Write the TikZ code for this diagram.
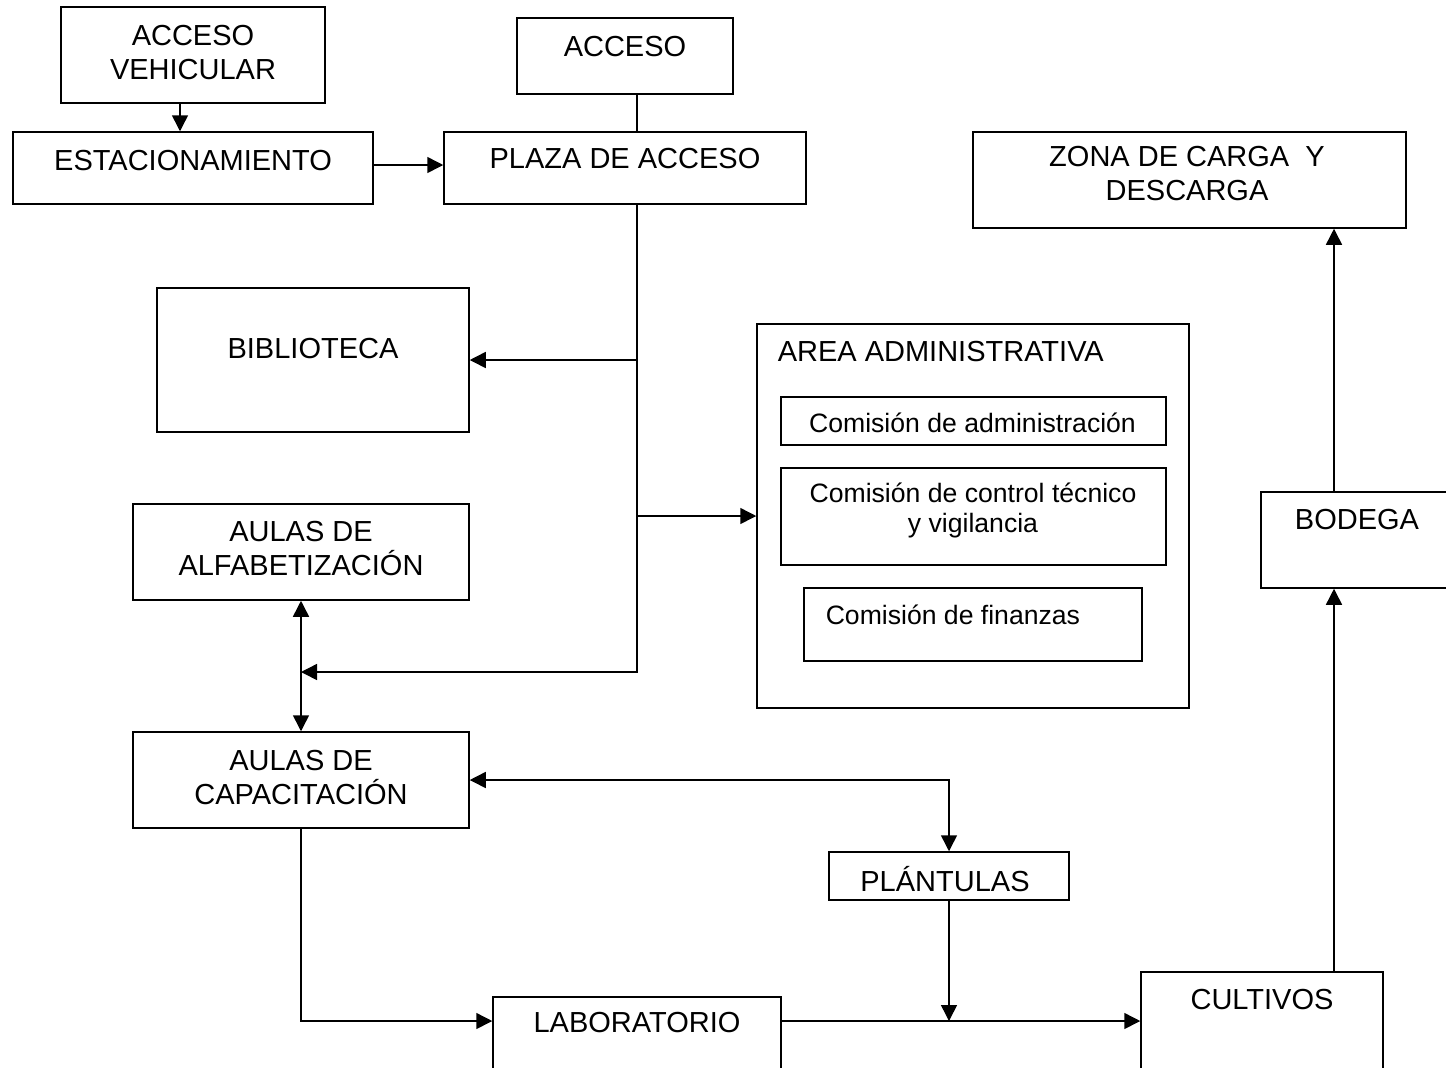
\documentclass[tikz,border=0pt]{standalone}
\usepackage{fontspec}
\setmainfont{Liberation Sans}
\usetikzlibrary{arrows.meta,positioning}

\begin{document}
\begin{tikzpicture}[x=0.5pt,y=-0.5pt,line width=0.75pt,
    box/.style={draw,rectangle,inner sep=0pt},
    txt/.style={align=center,inner sep=0pt,font=\fontsize{14.5}{17}\selectfont},
    small/.style={align=center,inner sep=0pt,font=\fontsize{13.3}{15}\selectfont},
    arr/.style={-{Triangle[length=8pt,width=8pt]}},
    arr2/.style={{Triangle[length=8pt,width=8pt]}-{Triangle[length=8pt,width=8pt]}}]
  \fill[white] (0,0) rectangle (1446,1067);
  \useasboundingbox (0,0) rectangle (1446,1067);
  \clip (0,0) rectangle (1446,1067);

  % boxes
  \node [box,minimum width=132pt,minimum height=48pt] (vehic) at (193,55) {};
  \node [txt] (vehicT) at (193,52.5) {ACCESO\\VEHICULAR};
  \node [box,minimum width=180pt,minimum height=36pt] (estac) at (193,168) {};
  \node [txt] (estacT) at (193,161) {ESTACIONAMIENTO};
  \node [box,minimum width=108pt,minimum height=38pt] (acceso) at (625,56) {};
  \node [txt] (accesoT) at (625,47) {ACCESO};
  \node [box,minimum width=181pt,minimum height=36pt] (plaza) at (625,168) {};
  \node [txt] (plazaT) at (625,159) {PLAZA DE ACCESO};
  \node [box,minimum width=216.5pt,minimum height=48pt] (zona) at (1189.5,180) {};
  \node [txt] (zonaT) at (1187,174) {ZONA DE CARGA~ Y\\DESCARGA};
  \node [box,minimum width=156pt,minimum height=72pt] (biblio) at (313,360) {};
  \node [txt] (biblioT) at (313,349) {BIBLIOTECA};

  \node [box,minimum width=216pt,minimum height=192pt] (area) at (973,516) {};
  \node [txt,anchor=west] (areaT) at (777,352) {AREA ADMINISTRATIVA};
  \node [box,minimum width=192.5pt,minimum height=24pt] (comAdm) at (973.5,421) {};
  \node [small] (comAdmT) at (972.5,423) {Comisión de administración};
  \node [box,minimum width=192.5pt,minimum height=48.5pt] (comCtl) at (973.5,516.5) {};
  \node [small] (comCtlT) at (973,510) {Comisión de control técnico\\y vigilancia};
  \node [box,minimum width=169pt,minimum height=36.5pt] (comFin) at (973,624.5) {};
  \node [small,anchor=west] (comFinT) at (825,615) {Comisión de finanzas};

  \node [box,minimum width=96pt,minimum height=48pt] (bodega) at (1357,540) {};
  \node [txt] (bodegaT) at (1357,520) {BODEGA};
  \node [box,minimum width=168pt,minimum height=48pt] (alfab) at (301,552) {};
  \node [txt] (alfabT) at (301,549) {AULAS DE\\ALFABETIZACIÓN};
  \node [box,minimum width=168pt,minimum height=48pt] (capac) at (301,780) {};
  \node [txt] (capacT) at (301,778) {AULAS DE\\CAPACITACIÓN};
  \node [box,minimum width=120pt,minimum height=24pt] (plant) at (949,876) {};
  \node [txt] (plantT) at (945,879) {PLÁNTULAS};
  \node [box,minimum width=144pt,minimum height=48pt] (lab) at (637,1045) {};
  \node [txt] (labT) at (637,1023) {LABORATORIO};
  \node [box,minimum width=121pt,minimum height=60pt] (cult) at (1262,1032) {};
  \node [txt] (cultT) at (1262,999) {CULTIVOS};

  % junctions
  \coordinate (tr) at ([xshift=6pt]plaza.south);
  \coordinate (jAul) at (301,672);
  \coordinate (flow) at (949,1021);
  \coordinate (rise) at (1334,0);

  % connectors
  \draw [arr] ([xshift=-6.5pt]vehic.south) -- ([xshift=-6.5pt]estac.north);
  \draw [arr] ([yshift=1.5pt]estac.east) -- ([yshift=1.5pt]plaza.west);
  \draw ([xshift=6pt]acceso.south) -- ([xshift=6pt]plaza.north);
  \draw [arr] (tr) |- (jAul);
  \draw [arr] (biblio.east -| tr) -- (biblio.east);
  \draw [arr] (area.west -| tr) -- (area.west);
  \draw [arr2] (alfab.south) -- (capac.north);
  \draw [arr2] (capac.east) -| (plant.north);
  \draw [arr] (capac.south) |- (lab.west |- flow);
  \draw [arr] (lab.east |- flow) -- (cult.west |- flow);
  \draw [arr] (plant.south) -- (flow);
  \draw [arr] (cult.north -| rise) -- (bodega.south -| rise);
  \draw [arr] (bodega.north -| rise) -- (zona.south -| rise);
\end{tikzpicture}
\end{document}
